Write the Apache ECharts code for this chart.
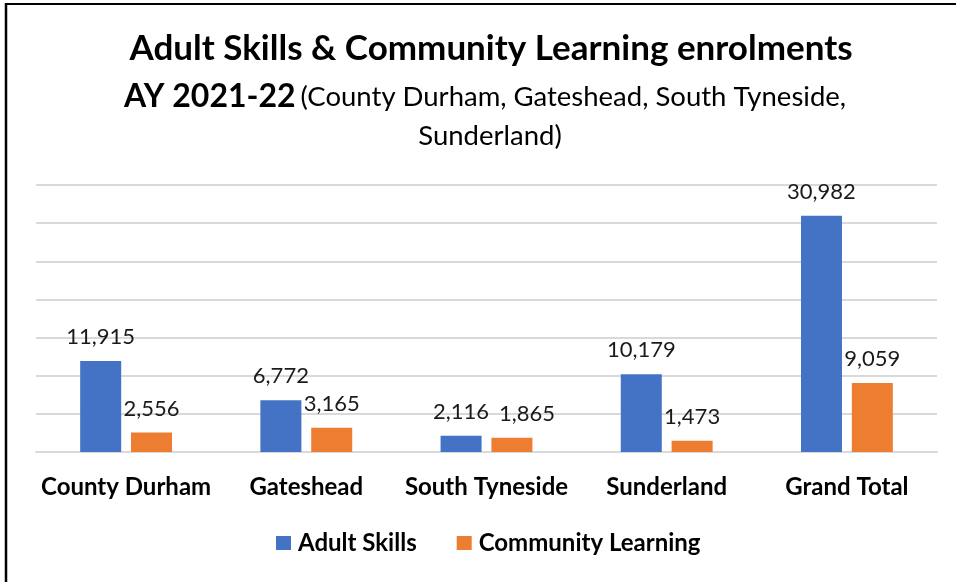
<!DOCTYPE html>
<html>
<head>
<meta charset="utf-8">
<script src="https://cdn.jsdelivr.net/npm/echarts@6/dist/echarts.min.js"></script>
<style>
  html, body { margin: 0; padding: 0; background: #fff; }
  #chart { width: 956px; height: 582px; }
</style>
</head>
<body>
<div id="chart"></div>
<script>
// Enrolments by local authority area, academic year 2021-22
const categories = ['County Durham', 'Gateshead', 'South Tyneside', 'Sunderland', 'Grand Total'];
const adultSkills = [11915, 6772, 2116, 10179, 30982];
const communityLearning = [2556, 3165, 1865, 1473, 9059];
const seriesNames = ['Adult Skills', 'Community Learning'];

const FONT = 'Lato, "Open Sans", sans-serif';
const fmt = v => v.toLocaleString('en-GB');

const chart = echarts.init(document.getElementById('chart'), null, { renderer: 'canvas' });

const valueLabel = {
  show: true, position: 'top', distance: 13,
  formatter: p => fmt(p.value),
  fontFamily: FONT, fontSize: 22, color: '#1a1a1a'
};

// South Tyneside's two labels sit side by side; nudge the right one clear
const communityItems = communityLearning.map((v, i) =>
  categories[i] === 'South Tyneside' ? { value: v, label: { offset: [15, 0] } } : v);

chart.setOption({
  backgroundColor: '#ffffff',
  animation: false,
  title: [
    {
      text: 'Adult Skills & Community Learning enrolments',
      left: 486, top: 26, textAlign: 'center',
      textStyle: { fontFamily: FONT, fontSize: 35, fontWeight: 'bold', color: '#000' }
    },
    {
      text: '{b|AY 2021-22} {n|(County Durham, Gateshead, South Tyneside,}',
      left: 480, top: 76, textAlign: 'center',
      textStyle: {
        rich: {
          b: { fontFamily: FONT, fontSize: 32, fontWeight: 'bold', color: '#000' },
          n: { fontFamily: FONT, fontSize: 27.5, fontWeight: 'normal', color: '#000' }
        }
      }
    },
    {
      text: 'Sunderland)',
      left: 485, top: 117, textAlign: 'center',
      textStyle: { fontFamily: FONT, fontSize: 27.5, fontWeight: 'normal', color: '#000' }
    }
  ],
  legend: {
    data: seriesNames,
    left: 271, top: 526,
    itemWidth: 15, itemHeight: 14, itemGap: 40,
    icon: 'rect',
    textStyle: { fontFamily: FONT, fontSize: 24, fontWeight: 'bold', color: '#000', padding: [0, 0, 0, 2] }
  },
  grid: { left: 36, right: 19, top: 185, bottom: 130, containLabel: false },
  xAxis: {
    type: 'category',
    data: categories,
    axisTick: { show: false },
    axisLine: { lineStyle: { color: '#d9d9d9', width: 2 } },
    axisLabel: { fontFamily: FONT, fontSize: 24, fontWeight: 'bold', color: '#000', margin: 23, interval: 0 }
  },
  yAxis: {
    type: 'value',
    min: 0, max: 35000, interval: 5000,
    axisLabel: { show: false },
    axisLine: { show: false },
    axisTick: { show: false },
    splitLine: { lineStyle: { color: '#d9d9d9', width: 2 } }
  },
  series: [
    {
      name: seriesNames[0], type: 'bar', data: adultSkills,
      barWidth: 41, barGap: '24%',
      itemStyle: { color: '#4472C4' },
      label: valueLabel
    },
    {
      name: seriesNames[1], type: 'bar', data: communityItems,
      barWidth: 41,
      itemStyle: { color: '#ED7D31' },
      label: valueLabel
    }
  ],
  graphic: [
    { type: 'line', shape: { x1: 5, y1: 4, x2: 956, y2: 4 }, style: { stroke: '#000', lineWidth: 2 } },
    { type: 'line', shape: { x1: 6, y1: 3, x2: 6, y2: 582 }, style: { stroke: '#000', lineWidth: 2.5 } }
  ]
});
</script>
</body>
</html>
